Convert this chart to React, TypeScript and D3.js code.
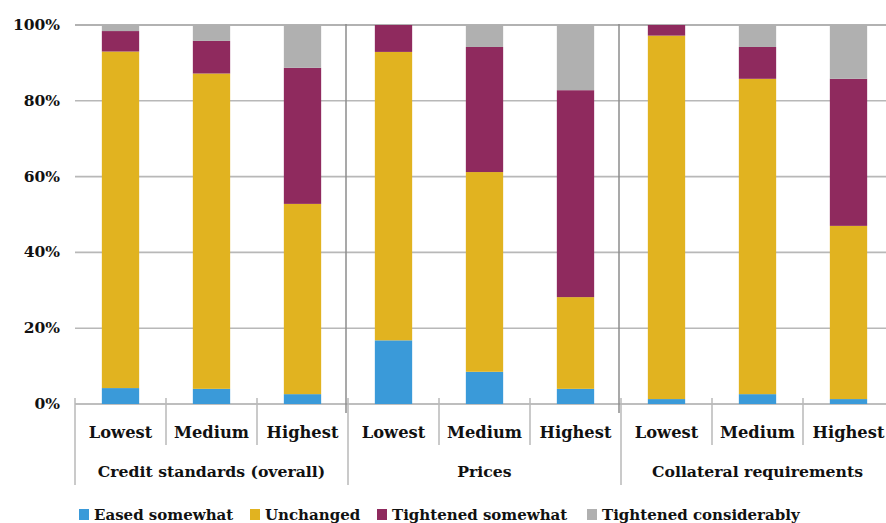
import React from "react";
import * as d3 from "d3";

// Category labels and groups
const categories = ["Lowest", "Medium", "Highest", "Lowest", "Medium", "Highest", "Lowest", "Medium", "Highest"];
const groups = ["Credit standards (overall)", "Prices", "Collateral requirements"];
const seriesNames = ["Eased somewhat", "Unchanged", "Tightened somewhat", "Tightened considerably"];

// Percent of respondents per category, one array per series
const easedSomewhat = [4.2, 4.0, 2.6, 16.8, 8.5, 4.0, 1.3, 2.6, 1.3];
const unchanged = [88.8, 83.2, 50.2, 76.1, 52.7, 24.2, 95.9, 83.2, 45.7];
const tightenedSomewhat = [5.4, 8.6, 35.9, 7.1, 33.0, 54.6, 2.8, 8.4, 38.8];
const tightenedConsiderably = [1.6, 4.2, 11.3, 0.0, 5.8, 17.2, 0.0, 5.8, 14.2];

const yTicks = [0, 20, 40, 60, 80, 100];

const colors = ["#3a9ad9", "#e1b320", "#8f2a5e", "#b0b0b0"];

const W = 886;
const H = 523;
const left = 75;
const right = 894;
const top = 25;
const bottom = 404;
const font = "'DejaVu Serif', serif";

export default function App() {
  const seriesValues = [easedSomewhat, unchanged, tightenedSomewhat, tightenedConsiderably];
  const rows = categories.map((c, i) => {
    const r: Record<string, number | string> = { key: String(i) };
    seriesNames.forEach((s, j) => (r[s] = seriesValues[j][i]));
    return r;
  });
  const stack = d3.stack<Record<string, number | string>>().keys(seriesNames)(rows as any);

  const x = d3
    .scaleBand<string>()
    .domain(categories.map((_, i) => String(i)))
    .range([left, right])
    .paddingInner(0.59)
    .paddingOuter(0.295);
  const step = x.step();
  const boundary = (i: number) => left + i * step;
  const y = d3.scaleLinear().domain([0, 100]).range([bottom, top]);

  const legendX = [79, 250, 377, 587];

  return (
    <svg width={W} height={H} style={{ position: "absolute", left: 0, top: 0, background: "#fff" }}>
      {/* gridlines */}
      {yTicks.map((t) => (
        <line
          key={t}
          x1={left}
          x2={W}
          y1={y(t)}
          y2={y(t)}
          stroke={t === 100 ? "#999" : t === 0 ? "#a8a8a8" : "#b8b8b8"}
          strokeWidth={1.6}
        />
      ))}
      {/* y labels */}
      {yTicks.map((t) => (
        <text
          key={t}
          x={60}
          y={y(t) + 1}
          textAnchor="end"
          dominantBaseline="middle"
          fontFamily={font}
          fontWeight="bold"
          fontSize={15.5}
          fill="#111"
        >
          {t}%
        </text>
      ))}
      {/* stacked bars */}
      {stack.map((layer, si) => (
        <g key={si} fill={colors[si]}>
          {layer.map((d, i) => (
            <rect
              key={i}
              x={x(String(i))}
              width={x.bandwidth()}
              y={y(d[1])}
              height={Math.max(0, y(d[0]) - y(d[1]))}
            />
          ))}
        </g>
      ))}
      {/* group separators inside plot */}
      {[3, 6].map((i) => (
        <line key={i} x1={boundary(i) - 2} x2={boundary(i) - 2} y1={top - 1} y2={413} stroke="#8c8c8c" strokeWidth={1.5} />
      ))}
      {/* category tick lines */}
      {d3.range(0, 10).map((i) => {
        const isGroup = i % 3 === 0;
        return (
          <line
            key={i}
            x1={boundary(i)}
            x2={boundary(i)}
            y1={398}
            y2={isGroup ? 485 : 445}
            stroke="#b8b8b8"
            strokeWidth={1.5}
          />
        );
      })}
      {/* category labels */}
      {categories.map((c, i) => (
        <text
          key={i}
          x={(x(String(i)) as number) + x.bandwidth() / 2}
          y={438}
          textAnchor="middle"
          fontFamily={font}
          fontWeight="bold"
          fontSize={16.3}
          fill="#111"
        >
          {c}
        </text>
      ))}
      {/* group labels */}
      {groups.map((g, gi) => (
        <text
          key={g}
          x={(boundary(gi * 3) + boundary(gi * 3 + 3)) / 2}
          y={477}
          textAnchor="middle"
          fontFamily={font}
          fontWeight="bold"
          fontSize={15.7}
          fill="#111"
        >
          {g}
        </text>
      ))}
      {/* legend */}
      {seriesNames.map((s, i) => (
        <g key={s}>
          <rect x={legendX[i]} y={509} width={10} height={11} fill={colors[i]} />
          <text
            x={legendX[i] + 15}
            y={520}
            fontFamily={font}
            fontWeight="bold"
            fontSize={15}
            fill="#111"
          >
            {s}
          </text>
        </g>
      ))}
    </svg>
  );
}
